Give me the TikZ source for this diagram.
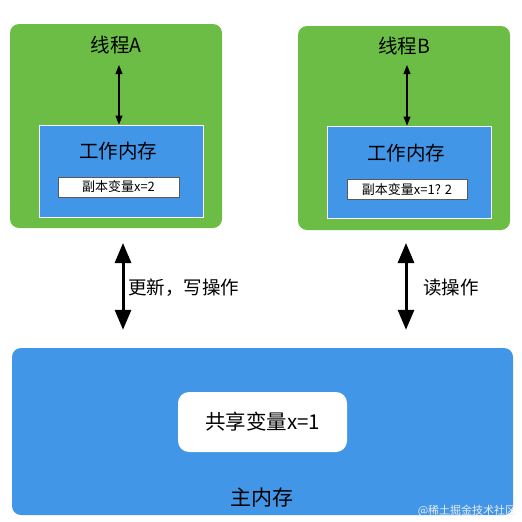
\documentclass[tikz,border=0pt]{standalone}
\usepackage{fontspec}
\setmainfont{Noto Sans CJK SC}
\usetikzlibrary{arrows.meta}
\definecolor{threadgreen}{RGB}{108,189,69}
\definecolor{memblue}{RGB}{66,150,232}
\begin{document}
\begin{tikzpicture}[x=1pt,y=-1pt,
    thread/.style={fill=threadgreen, rounded corners=9pt, inner sep=0pt, minimum width=212pt, minimum height=204pt},
    workmem/.style={fill=memblue, draw=white, line width=0.8pt, inner sep=0pt, minimum width=164pt, minimum height=92pt},
    copybox/.style={fill=white, draw=black!65, line width=0.6pt, inner sep=0pt, minimum height=20pt, font=\fontsize{13}{13}\selectfont},
    smallarrow/.style={{Triangle[width=7pt,length=9pt]}-{Triangle[width=7pt,length=9pt]}, line width=1.1pt},
    bigarrow/.style={{Triangle[width=16pt,length=20pt]}-{Triangle[width=16pt,length=20pt]}, line width=3pt},
    title/.style={font=\fontsize{19.5}{19.5}\selectfont},
    oplabel/.style={font=\fontsize{18.5}{18.5}\selectfont, anchor=west, inner sep=0pt}]

    \useasboundingbox (0,0) rectangle (522,522);

    % two threads
    \node[thread] (threadA) at (116,126) {};
    \node[thread] (threadB) at (404,128) {};
    \node[title] (titleA) at (116,45) {线程A};
    \node[title] (titleB) at (404,46) {线程B};

    \node[workmem] (workA) at (121,171) {};
    \node[workmem] (workB) at (409.5,172) {};
    \node[title] at (118,151) {工作内存};
    \node[title] at (406,153) {工作内存};
    \node[copybox, minimum width=121pt] (copyA) at (118.5,187) {副本变量x=2};
    \node[copybox, minimum width=120pt] (copyB) at (407,189.5) {副本变量x=1? 2};

    \coordinate (topA) at (119,65);
    \coordinate (topB) at (407,65);
    \draw[smallarrow] (topA) -- (topA |- workA.north);
    \draw[smallarrow] (topB) -- (topB |- workB.north);

    % main memory
    \node[fill=memblue, rounded corners=9pt, minimum width=501pt, minimum height=167pt] (mainMem) at (262.5,431.5) {};
    \node[fill=white, rounded corners=11pt, minimum width=169pt, minimum height=60pt, font=\fontsize{20.5}{20.5}\selectfont] (shared) at (262.5,422) {共享变量x=1};
    \node[font=\fontsize{21}{21}\selectfont] (mainLabel) at (262,498) {主内存};

    \coordinate (upA) at (123,243);
    \coordinate (upB) at (406,243);
    \draw[bigarrow, shorten >=18pt] (upA) -- (upA |- mainMem.north);
    \draw[bigarrow, shorten >=18pt] (upB) -- (upB |- mainMem.north);
    \node[oplabel] (writeOp) at (128,288) {更新，写操作};
    \node[oplabel] (readOp) at (423,288) {读操作};

    \node[text=white!85!gray, font=\fontsize{11}{11}\selectfont] (mark) at (467,511) {@稀土掘金技术社区};

\end{tikzpicture}
\end{document}
